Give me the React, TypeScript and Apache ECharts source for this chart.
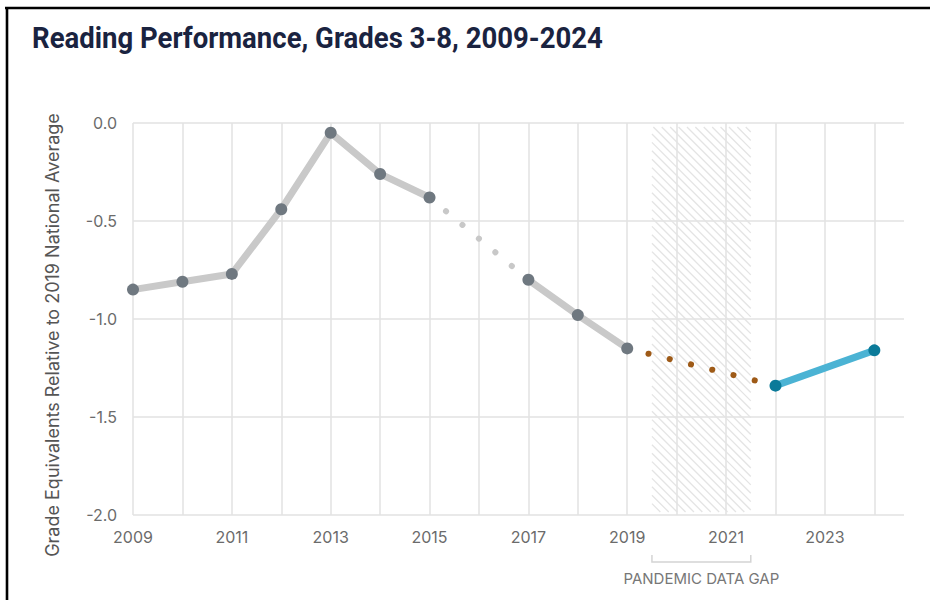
import React, { useEffect, useRef } from 'react';
import * as echarts from 'echarts';

// ---- data ----
const solidYearsA = [2009, 2010, 2011, 2012, 2013, 2014, 2015];
const solidValuesA = [-0.85, -0.81, -0.77, -0.44, -0.05, -0.26, -0.38];
const solidYearsB = [2017, 2018, 2019];
const solidValuesB = [-0.8, -0.98, -1.15];
const recentYears = [2022, 2024];
const recentValues = [-1.34, -1.16];
const gapYears = [2019.5, 2021.5];
const xLabelYears = [2009, 2011, 2013, 2015, 2017, 2019, 2021, 2023];
const Y_MIN = -2;
const Y_MAX = 0;
const Y_STEP = 0.5;
const X_MIN = 2009;
const X_MAX = 2024.6;

const TITLE = 'Reading Performance, Grades 3-8, 2009-2024';
const Y_NAME = 'Grade Equivalents Relative to 2019 National Average';
const GAP_LABEL = 'PANDEMIC DATA GAP';

const pairs = (xs: number[], ys: number[]) => xs.map((x, i) => [x, ys[i]]);

const TITLE_FONT = 'bold 29px Roboto';
const TITLE_WIDTH = 571;

function measure(font: string, text: string): number {
  try {
    const c = document.createElement('canvas');
    const ctx = c.getContext('2d');
    if (!ctx) return TITLE_WIDTH;
    ctx.font = font;
    return ctx.measureText(text).width || TITLE_WIDTH;
  } catch (e) {
    return TITLE_WIDTH;
  }
}

export default function App() {
  const ref = useRef<HTMLDivElement>(null);
  useEffect(() => {
    if (!ref.current) return;
    const chart = echarts.init(ref.current, null, { renderer: 'svg' });
    const gridColor = '#e2e2e2';
    const vColors: string[] = [];
    for (let i = 0; i < 16; i++) vColors.push(gridColor);
    vColors.push('rgba(0,0,0,0)');

    const titleScale = TITLE_WIDTH / measure(TITLE_FONT, TITLE);

    const dottedGray = [
      [solidYearsA[solidYearsA.length - 1], solidValuesA[solidValuesA.length - 1]],
      [solidYearsB[0], solidValuesB[0]],
    ];
    const dottedBrown = [
      [solidYearsB[solidYearsB.length - 1], solidValuesB[solidValuesB.length - 1]],
      [recentYears[0], recentValues[0]],
    ];

    chart.setOption({
      animation: false,
      backgroundColor: '#ffffff',
      grid: { left: 133, right: 26, top: 123, bottom: 85, containLabel: false },
      xAxis: {
        type: 'value',
        min: X_MIN,
        max: X_MAX,
        interval: 1,
        axisLine: { show: false },
        axisTick: { show: false },
        splitLine: { show: true, lineStyle: { color: vColors, width: 1.5 } },
        axisLabel: {
          margin: 14,
          fontSize: 16,
          fontFamily: 'Inter',
          color: '#6b6b6b',
          formatter: (v: number) => (xLabelYears.indexOf(v) >= 0 ? String(v) : ''),
        },
      },
      yAxis: {
        type: 'value',
        min: Y_MIN,
        max: Y_MAX,
        interval: Y_STEP,
        axisLine: { show: false },
        axisTick: { show: false },
        splitLine: { show: true, lineStyle: { color: gridColor, width: 1.5 } },
        axisLabel: {
          margin: 16,
          fontSize: 16,
          fontFamily: 'Inter',
          color: '#6b6b6b',
          formatter: (v: number) => v.toFixed(1),
        },
      },
      graphic: [
        {
          type: 'line',
          shape: { x1: 5, y1: 8, x2: 935, y2: 8 },
          style: { stroke: '#000', lineWidth: 2.6 },
        },
        {
          type: 'line',
          shape: { x1: 7, y1: 7, x2: 7, y2: 605 },
          style: { stroke: '#000', lineWidth: 2.6 },
        },
        {
          type: 'text',
          x: 32,
          y: 38,
          scaleX: titleScale,
          style: {
            text: TITLE,
            fill: '#1a2340',
            font: TITLE_FONT,
            align: 'left',
            verticalAlign: 'middle',
          },
        },
        {
          type: 'text',
          x: 52,
          y: 335,
          rotation: Math.PI / 2,
          style: {
            text: Y_NAME,
            fill: '#555555',
            font: '18px Inter',
            align: 'center',
            verticalAlign: 'middle',
          },
        },
      ],
      series: [
        {
          type: 'custom',
          z: 1,
          silent: true,
          data: [[gapYears[0], gapYears[1]]],
          encode: { x: [0, 1] },
          renderItem: (params: any, api: any) => {
            const x0 = api.coord([api.value(0), Y_MAX])[0];
            const x1 = api.coord([api.value(1), Y_MAX])[0];
            const yTop = api.coord([X_MIN, Y_MAX])[1] + 4;
            const yBot = api.coord([X_MIN, Y_MIN])[1];
            const hatchBot = yBot - 3;
            const children: any[] = [];
            const step = 8.4;
            for (let k = x0 - hatchBot; k <= x1 - yTop; k += step) {
              const ya = Math.max(yTop, x0 - k);
              const yb = Math.min(hatchBot, x1 - k);
              if (yb - ya < 0.5) continue;
              children.push({
                type: 'line',
                shape: { x1: ya + k, y1: ya, x2: yb + k, y2: yb },
                style: { stroke: '#e4e4e4', lineWidth: 1.3 },
              });
            }
            children.push({
              type: 'polyline',
              shape: {
                points: [
                  [x0, yBot + 40],
                  [x0, yBot + 47],
                  [x1, yBot + 47],
                  [x1, yBot + 40],
                ],
              },
              style: { stroke: '#d4d4d4', lineWidth: 1.5, fill: 'none' },
            });
            children.push({
              type: 'text',
              x: (x0 + x1) / 2,
              y: yBot + 63.5,
              style: {
                text: GAP_LABEL,
                fill: '#777777',
                font: '15px Inter',
                align: 'center',
                verticalAlign: 'middle',
              },
            });
            return { type: 'group', children };
          },
        },
        {
          type: 'line',
          z: 2,
          silent: true,
          data: dottedGray,
          showSymbol: false,
          lineStyle: { color: '#c8c8c8', width: 6, type: [0.1, 21.3], cap: 'round' },
        },
        {
          type: 'line',
          z: 2,
          silent: true,
          data: dottedBrown,
          showSymbol: false,
          lineStyle: { color: '#9e5a17', width: 6, type: [0.1, 21.8], cap: 'round' },
        },
        {
          type: 'line',
          z: 3,
          data: pairs(solidYearsA, solidValuesA),
          symbol: 'circle',
          symbolSize: 12,
          lineStyle: { color: '#c9c9c9', width: 7 },
          itemStyle: { color: '#6f7880' },
        },
        {
          type: 'line',
          z: 3,
          data: pairs(solidYearsB, solidValuesB),
          symbol: 'circle',
          symbolSize: 12,
          lineStyle: { color: '#c9c9c9', width: 7 },
          itemStyle: { color: '#6f7880' },
        },
        {
          type: 'line',
          z: 3,
          data: pairs(recentYears, recentValues),
          symbol: 'circle',
          symbolSize: 12,
          lineStyle: { color: '#4bb3d4', width: 7 },
          itemStyle: { color: '#0b7a99' },
        },
      ],
    });
    return () => chart.dispose();
  }, []);
  return (
    <div
      ref={ref}
      style={{ position: 'fixed', left: 0, top: 0, width: 930, height: 600, background: '#fff' }}
    />
  );
}
